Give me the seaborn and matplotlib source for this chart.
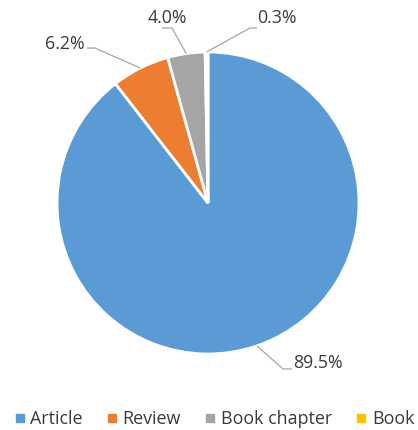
import numpy as np
import matplotlib
matplotlib.use("Agg")
import matplotlib.pyplot as plt
from matplotlib.lines import Line2D
import seaborn as sns

# Document types and their share of the publications (%)
categories = ["Article", "Review", "Book chapter", "Book"]
shares = [89.5, 6.2, 4.0, 0.3]
labels = ["89.5%", "6.2%", "4.0%", "0.3%"]

sns.set_theme(style="white")
plt.rcParams["font.family"] = ["Open Sans", "DejaVu Sans"]
colors = sns.color_palette(["#5B9BD5", "#ED7D31", "#A5A5A5", "#FFC000"])

fig = plt.figure(figsize=(4.18, 4.30), dpi=100)
W, H = 418, 430
cx, cy, r = 208, 203, 151
ax = fig.add_axes([(cx - r) / W, 1 - (cy + r) / H, 2 * r / W, 2 * r / H])

wedges, _ = ax.pie(
    shares,
    colors=colors,
    startangle=90,
    counterclock=False,
    radius=1.0,
    wedgeprops=dict(edgecolor="white", linewidth=2),
)
ax.set_xlim(-1, 1)
ax.set_ylim(-1, 1)
ax.set_aspect("equal")
ax.axis("off")

# Leader layout per slice: elbow point, line end, text anchor, alignment
layout = [
    dict(elbow=(0.497, -1.099), end=(0.556, -1.099), text=(0.565, -1.058), ha="left"),
    dict(elbow=(-0.748, 1.026), end=(-0.801, 1.026), text=(-0.815, 1.056), ha="right"),
    dict(elbow=(-0.238, 1.159), end=(-0.305, 1.159), text=(-0.270, 1.225), ha="center"),
    dict(elbow=(0.278, 1.159), end=(0.325, 1.159), text=(0.328, 1.225), ha="left"),
]
line_color = "#A6A6A6"
for w, lab, lay in zip(wedges, labels, layout):
    mid = np.deg2rad((w.theta1 + w.theta2) / 2)
    p0 = (np.cos(mid), np.sin(mid))
    xs = [p0[0], lay["elbow"][0], lay["end"][0]]
    ys = [p0[1], lay["elbow"][1], lay["end"][1]]
    ax.plot(xs, ys, color=line_color, lw=0.9, clip_on=False, solid_capstyle="butt")
    ax.text(lay["text"][0], lay["text"][1], lab, ha=lay["ha"], va="center",
            fontsize=12.8, color="#3A3A3A", clip_on=False)

handles = [Line2D([0], [0], marker="s", linestyle="none", markersize=5.5,
                  markerfacecolor=c, markeredgecolor=c) for c in colors]
fig.legend(handles, categories, loc="center", bbox_to_anchor=(0.513, 1 - 419 / H),
           ncol=4, frameon=False, fontsize=12.9, handlelength=0.6,
           handletextpad=0.3, columnspacing=1.33, labelcolor="#3A3A3A")

fig.savefig("out.png", dpi=100, facecolor="white")
